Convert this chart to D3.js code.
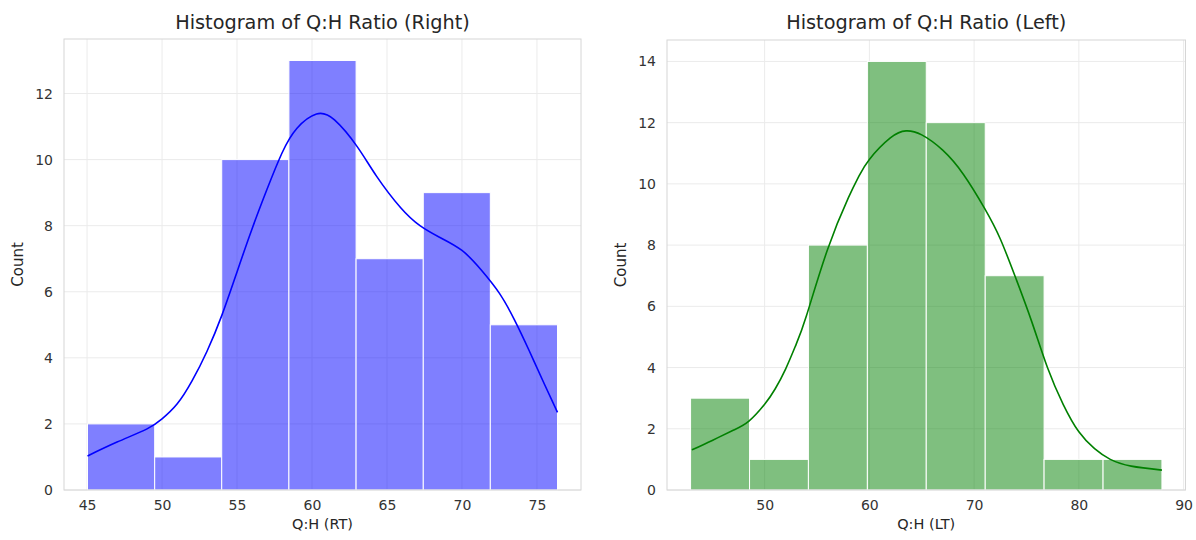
<!DOCTYPE html>
<html>
<head>
<meta charset="utf-8">
<script src="https://cdn.jsdelivr.net/npm/d3@7"></script>
<style>
  html, body { margin: 0; padding: 0; background: #ffffff; }
  svg { display: block; font-family: "DejaVu Sans", sans-serif; }
</style>
</head>
<body>
<svg id="chart" width="1196" height="540"></svg>
<script>
// ---------- data ----------
const rtTitle = "Histogram of Q:H Ratio (Right)";
const rtXLabel = "Q:H (RT)";
const rtEdges = [45.03, 49.51, 53.98, 58.46, 62.94, 67.42, 71.89, 76.37];
const rtCounts = [2, 1, 10, 13, 7, 9, 5];
const rtXTicks = [45, 50, 55, 60, 65, 70, 75];
const rtYTicks = [0, 2, 4, 6, 8, 10, 12];
const rtKdeX = [45.03, 47, 49, 50, 51, 52, 53, 54, 55, 56, 57, 58, 59, 60.3, 61.5, 63, 64.3, 65.9, 67.2, 68.5, 70, 71.3, 72.5, 73.5, 74.5, 75.5, 76.37];
const rtKdeY = [1.03, 1.45, 1.85, 2.15, 2.6, 3.3, 4.2, 5.3, 6.6, 7.9, 9.1, 10.2, 10.95, 11.38, 11.2, 10.4, 9.5, 8.55, 8.0, 7.65, 7.25, 6.65, 5.95, 5.15, 4.2, 3.2, 2.35];

const ltTitle = "Histogram of Q:H Ratio (Left)";
const ltXLabel = "Q:H (LT)";
const ltEdges = [42.93, 48.56, 54.18, 59.81, 65.43, 71.06, 76.68, 82.31, 87.93];
const ltCounts = [3, 1, 8, 14, 12, 7, 1, 1];
const ltXTicks = [50, 60, 70, 80, 90];
const ltYTicks = [0, 2, 4, 6, 8, 10, 12, 14];
const ltKdeX = [43.06, 45, 47, 48.5, 50, 51, 52, 53, 54, 56, 58, 59, 60, 62, 63.5, 65, 67, 69, 71, 72.5, 74, 75.5, 77, 78.5, 80, 81.5, 83, 85, 87.93];
const ltKdeY = [1.31, 1.62, 1.95, 2.25, 2.8, 3.3, 3.95, 4.75, 5.7, 7.85, 9.55, 10.25, 10.8, 11.5, 11.73, 11.6, 11.1, 10.3, 9.2, 8.2, 6.9, 5.5, 4.0, 2.8, 1.9, 1.35, 1.0, 0.78, 0.65];

const yLabel = "Count";

// ---------- drawing ----------
const svg = d3.select("#chart");
const textColor = "#262626";
const tickColor = "#333333";

function drawPanel(cfg) {
  const { left, right, top, bottom, edges, counts, xTicks, yTicks, kdeX, kdeY,
          fill, line, title, xLabel } = cfg;
  const lo = edges[0], hi = edges[edges.length - 1];
  const pad = (hi - lo) * 0.05;
  const x = d3.scaleLinear().domain([lo - pad, hi + pad]).range([left, right]);
  const yMax = d3.max(counts) * 1.05;
  const y = d3.scaleLinear().domain([0, yMax]).range([bottom, top]);

  const g = svg.append("g");

  // grid
  g.append("g").selectAll("line").data(xTicks).join("line")
    .attr("x1", d => x(d)).attr("x2", d => x(d))
    .attr("y1", top).attr("y2", bottom)
    .attr("stroke", "#ebebeb").attr("stroke-width", 1);
  g.append("g").selectAll("line").data(yTicks).join("line")
    .attr("x1", left).attr("x2", right)
    .attr("y1", d => y(d)).attr("y2", d => y(d))
    .attr("stroke", "#ebebeb").attr("stroke-width", 1);

  // bars
  const bins = counts.map((c, i) => ({ x0: edges[i], x1: edges[i + 1], c }));
  g.append("g").selectAll("rect").data(bins).join("rect")
    .attr("x", d => x(d.x0)).attr("width", d => x(d.x1) - x(d.x0))
    .attr("y", d => y(d.c)).attr("height", d => y(0) - y(d.c))
    .attr("fill", fill).attr("fill-opacity", 0.5)
    .attr("stroke", "#ffffff").attr("stroke-width", 1);

  // kde
  const pts = kdeX.map((v, i) => [v, kdeY[i]]);
  g.append("path").datum(pts)
    .attr("d", d3.line().x(d => x(d[0])).y(d => y(d[1])).curve(d3.curveNatural))
    .attr("fill", "none").attr("stroke", line).attr("stroke-width", 1.6);

  // spines
  g.append("rect").attr("x", left).attr("y", top)
    .attr("width", right - left).attr("height", bottom - top)
    .attr("fill", "none").attr("stroke", "#d6d6d6").attr("stroke-width", 1);

  // axes (ticks without marks)
  const xAxis = d3.axisBottom(x).tickValues(xTicks).tickSize(0).tickPadding(10).tickFormat(d3.format("d"));
  const xa = g.append("g").attr("transform", `translate(0,${bottom})`).call(xAxis);
  xa.select(".domain").remove();
  xa.selectAll("text").attr("fill", tickColor).style("font-size", "14px").style("font-family", "DejaVu Sans");

  const yAxis = d3.axisLeft(y).tickValues(yTicks).tickSize(0).tickPadding(11).tickFormat(d3.format("d"));
  const ya = g.append("g").attr("transform", `translate(${left},0)`).call(yAxis);
  ya.select(".domain").remove();
  ya.selectAll("text").attr("fill", tickColor).style("font-size", "14px").style("font-family", "DejaVu Sans");

  // labels
  g.append("text").attr("x", (left + right) / 2).attr("y", 29)
    .attr("text-anchor", "middle").attr("fill", textColor)
    .style("font-size", "19.3px").text(title);
  g.append("text").attr("x", (left + right) / 2).attr("y", 529)
    .attr("text-anchor", "middle").attr("fill", textColor)
    .style("font-size", "14.5px").text(xLabel);
  g.append("text")
    .attr("transform", `translate(${left - 41},${(top + bottom) / 2}) rotate(-90)`)
    .attr("text-anchor", "middle").attr("fill", textColor)
    .style("font-size", "15px").text(yLabel);
}

drawPanel({ left: 64, right: 581, top: 39, bottom: 490,
  edges: rtEdges, counts: rtCounts, xTicks: rtXTicks, yTicks: rtYTicks,
  kdeX: rtKdeX, kdeY: rtKdeY, fill: "#0000ff", line: "#0000ff",
  title: rtTitle, xLabel: rtXLabel });

drawPanel({ left: 667, right: 1185.5, top: 40, bottom: 490,
  edges: ltEdges, counts: ltCounts, xTicks: ltXTicks, yTicks: ltYTicks,
  kdeX: ltKdeX, kdeY: ltKdeY, fill: "#008000", line: "#008000",
  title: ltTitle, xLabel: ltXLabel });
</script>
</body>
</html>
